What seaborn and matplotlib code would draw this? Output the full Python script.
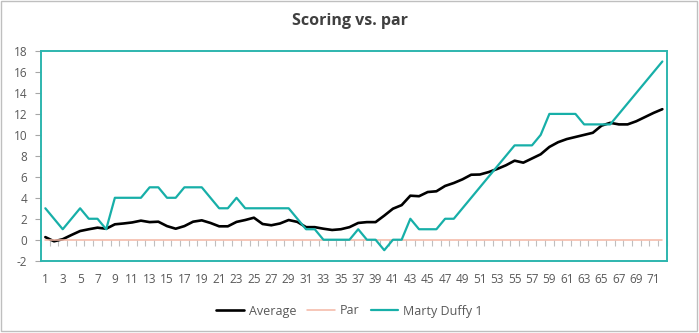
import numpy as np
import pandas as pd
import matplotlib
matplotlib.use("Agg")
import matplotlib.pyplot as plt
import seaborn as sns
from matplotlib.patches import Rectangle

# ---------------- data ----------------
holes = list(range(1, 73))
average = [0.25, -0.15, 0.05, 0.45, 0.83, 1.0, 1.15, 1.05, 1.47, 1.55,
           1.65, 1.82, 1.68, 1.72, 1.3, 1.05, 1.3, 1.72, 1.85, 1.6,
           1.28, 1.28, 1.7, 1.88, 2.1, 1.5, 1.38, 1.55, 1.88, 1.7,
           1.2, 1.2, 1.05, 0.93, 1.0, 1.2, 1.6, 1.68, 1.68, 2.3,
           2.96, 3.3, 4.2, 4.15, 4.55, 4.62, 5.13, 5.41, 5.76, 6.2,
           6.22, 6.45, 6.75, 7.1, 7.54, 7.35, 7.75, 8.15, 8.85, 9.3,
           9.6, 9.8, 10.0, 10.2, 10.88, 11.15, 11.0, 11.0, 11.3, 11.7,
           12.1, 12.45]
par = [0] * 72
marty = [3, 2, 1, 2, 3, 2, 2, 1, 4, 4,
         4, 4, 5, 5, 4, 4, 5, 5, 5, 4,
         3, 3, 4, 3, 3, 3, 3, 3, 3, 2,
         1, 1, 0, 0, 0, 0, 1, 0, 0, -1,
         0, 0, 2, 1, 1, 1, 2, 2, 3, 4,
         5, 6, 7, 8, 9, 9, 9, 10, 12, 12,
         12, 12, 11, 11, 11, 11, 12, 13, 14, 15,
         16, 17]
series_names = ["Average", "Par", "Marty Duffy 1"]
series_colors = ["#000000", "#F4B6A4", "#17AFA8"]
y_ticks = list(range(-2, 19, 2))
x_tick_labels = [str(h) for h in holes[::2]]
title = "Scoring vs. par"

# ---------------- style ----------------
sns.set_theme(style="white")
plt.rcParams['font.family'] = ['Open Sans', 'DejaVu Sans']

df = pd.concat([
    pd.DataFrame({"Hole": holes, "Score": vals, "Series": name})
    for name, vals in zip(series_names, [average, par, marty])
], ignore_index=True)

W, H = 699, 333
fig = plt.figure(figsize=(W / 100, H / 100), dpi=100)
ax = fig.add_axes([41 / W, 1 - 260.7 / H, 625.7 / W, 209.7 / H])

sns.lineplot(data=df, x="Hole", y="Score", hue="Series",
             hue_order=series_names,
             palette=dict(zip(series_names, series_colors)),
             estimator=None, sort=False, legend=False, ax=ax)

widths = [1.9, 1.1, 1.6]
for line, lw in zip(ax.lines, widths):
    line.set_linewidth(lw)
    line.set_solid_joinstyle("round")

ax.set_xlim(0.5, 72.5)
ax.set_ylim(-2, 18)
ax.set_xlabel("")
ax.set_ylabel("")
ax.set_xticks(holes[::2])
ax.set_xticklabels(x_tick_labels)
ax.set_yticks(y_ticks)
ax.set_yticklabels([str(t) for t in y_ticks])
ax.tick_params(axis="x", length=0, pad=9, labelsize=8.5, labelcolor="#595959")
ax.tick_params(axis="y", left=True, length=4, width=0.8, color="#A6A6A6",
               direction="out", pad=6, labelsize=8.5, labelcolor="#595959")
ax.grid(False)
for sp in ax.spines.values():
    sp.set_color("#2DB5AE")
    sp.set_linewidth(1.4)

# category-boundary tick marks hanging from the y=0 axis line
zero_frac = (0 - (-2)) / (18 - (-2))
sec = ax.secondary_xaxis(zero_frac)
sec.set_xticks(np.arange(0.5, 73, 1.0))
sec.tick_params(axis="x", direction="out", length=4, width=0.8,
                color="#BFBFBF", labelbottom=False, labeltop=False)
for sp in sec.spines.values():
    sp.set_visible(False)

# legend
fig.legend(handles=ax.lines[:3], labels=series_names, loc="center",
           bbox_to_anchor=(0.5, 1 - 311 / H), ncol=3, frameon=False,
           fontsize=9, handlelength=2.2, handletextpad=0.4,
           columnspacing=0.9, labelcolor="#595959")

# title
fig.text(0.5, 1 - 21 / H, title, ha="center", va="center",
         fontsize=11.5, fontweight="bold", color="#404040")

# outer chart border
fig.patches.append(Rectangle((0.7 / W, 1 - 331 / H), (697 - 0.7) / W,
                             (331 - 0.7) / H, transform=fig.transFigure,
                             fill=False, edgecolor="#BFBFBF", linewidth=1.0))

fig.savefig("out.png", dpi=100)
